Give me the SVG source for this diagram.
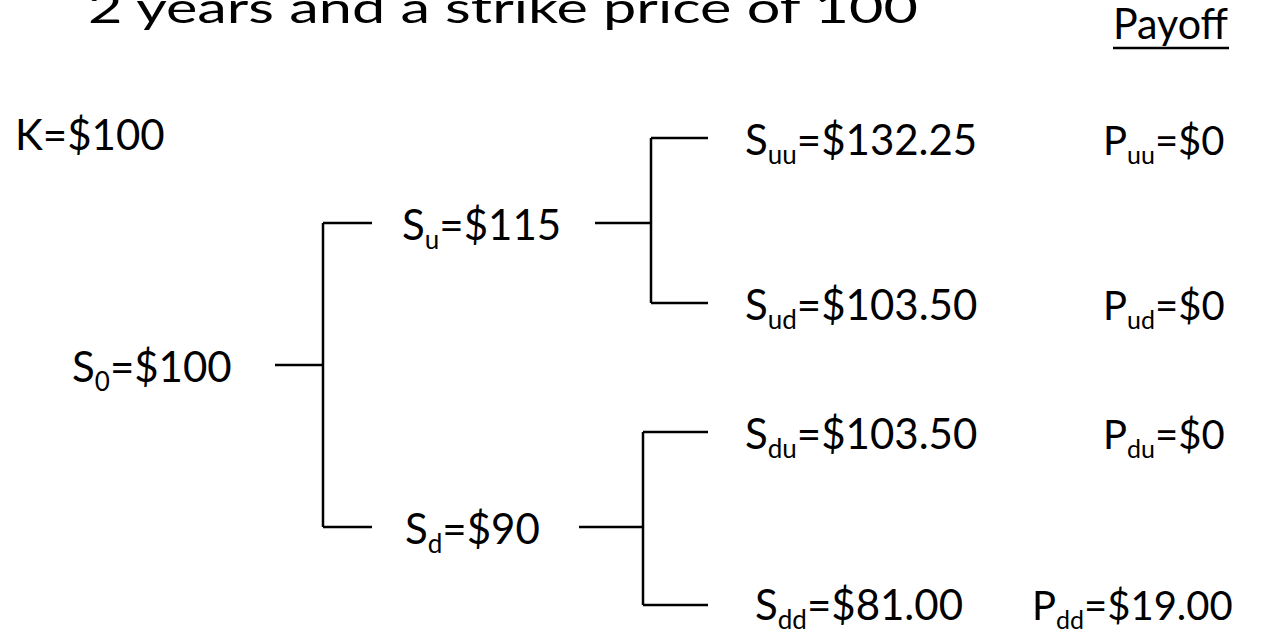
<svg xmlns="http://www.w3.org/2000/svg" width="1261" height="636" viewBox="0 0 1261 636">
<style>
text{font-family:Lato,"Liberation Sans",sans-serif;fill:#000;font-size:42px}
.sub{font-size:26px}
.p{font-size:40px}
.p .sub{font-size:25px}
.ln{stroke:#000;stroke-width:2.5;fill:none}
</style>
<rect width="1261" height="636" fill="#fff"/>
<g id="title"><text x="88" y="23" font-size="48" textLength="830" lengthAdjust="spacingAndGlyphs">2 years and a strike price of 100</text></g>
<g id="payoff"><text x="1113" y="39" font-size="37" textLength="115" lengthAdjust="spacingAndGlyphs">Payoff</text><line class="ln" x1="1113" y1="48" x2="1229" y2="48"/></g>
<g id="k"><text x="15" y="150">K=$100</text></g>
<g id="connectors">
<path class="ln" d="M275 365H323M323 223V527M323 223H372M323 527H372"/>
<path class="ln" d="M595 223H651M651 138V303M651 138H708M651 303H708"/>
<path class="ln" d="M579 527H643M643 432V605M643 432H708M643 605H708"/>
</g>
<g id="s0"><text x="72" y="382">S<tspan class="sub" dy="9">0</tspan><tspan dy="-9">=$100</tspan></text></g>
<g id="su"><text x="402" y="240">S<tspan class="sub" dy="9">u</tspan><tspan dy="-9">=$115</tspan></text></g>
<g id="sd"><text x="405" y="544">S<tspan class="sub" dy="9">d</tspan><tspan dy="-9">=$90</tspan></text></g>
<g id="suu"><text x="745" y="155">S<tspan class="sub" dy="9">uu</tspan><tspan dy="-9">=$132.25</tspan></text></g>
<g id="sud"><text x="745" y="320">S<tspan class="sub" dy="9">ud</tspan><tspan dy="-9">=$103.50</tspan></text></g>
<g id="sdu"><text x="745" y="449">S<tspan class="sub" dy="9">du</tspan><tspan dy="-9">=$103.50</tspan></text></g>
<g id="sdd"><text x="755" y="620">S<tspan class="sub" dy="9">dd</tspan><tspan dy="-9">=$81.00</tspan></text></g>
<g id="puu"><text class="p" x="1103" y="155">P<tspan class="sub" dy="9">uu</tspan><tspan dy="-9">=$0</tspan></text></g>
<g id="pud"><text class="p" x="1103" y="320">P<tspan class="sub" dy="9">ud</tspan><tspan dy="-9">=$0</tspan></text></g>
<g id="pdu"><text class="p" x="1103" y="449">P<tspan class="sub" dy="9">du</tspan><tspan dy="-9">=$0</tspan></text></g>
<g id="pdd"><text class="p" x="1032" y="620">P<tspan class="sub" dy="9">dd</tspan><tspan dy="-9">=$19.00</tspan></text></g>
</svg>
